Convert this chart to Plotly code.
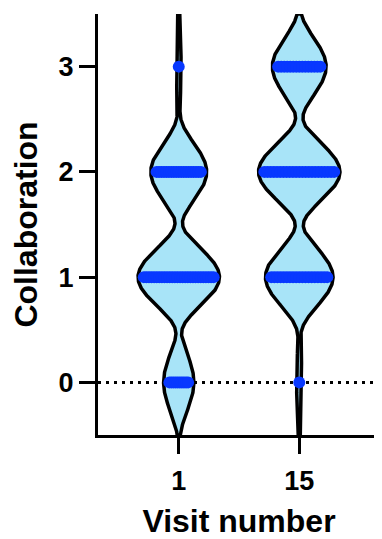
import numpy as np
import plotly.graph_objects as go

# ---- data ----
visits = ["1", "15"]
levels = [0, 1, 2, 3]
counts_visit1 = [10, 28, 19, 1]    # number of subjects at each collaboration score
counts_visit15 = [1, 19, 23, 15]
y_ticks = [0, 1, 2, 3]

FILL = "rgb(168,228,248)"
DOT = "rgb(8,56,255)"
FONT = "Arial, Liberation Sans, sans-serif"

VWIDTH = 0.66      # full violin width in x units
MARK_R = 0.04      # marker radius in x data units
SUPPORT = 0.62     # kernel half-support (triweight kernel)
FLOOR = 0.008      # minimal half-width so the thin parts stay visible
Y_SPAN = (-0.5, 3.5)


def kde(samples_levels, samples_counts, grid):
    dens = np.zeros_like(grid)
    for lv, n in zip(samples_levels, samples_counts):
        u = (grid - lv) / SUPPORT
        k = np.where(np.abs(u) < 1, (1 - u ** 2) ** 3, 0.0)
        dens += n * k
    return dens


fig = go.Figure()
groups = [counts_visit1, counts_visit15]
grid = np.linspace(Y_SPAN[0], Y_SPAN[1], 801)

# violin bodies (kernel density outline drawn on the data axes)
for gi, counts in enumerate(groups):
    d = kde(levels, counts, grid)
    half = d / d.max() * VWIDTH / 2 + FLOOR
    xs = np.concatenate([gi + half, (gi - half)[::-1], [gi + half[0]]])
    ys = np.concatenate([grid, grid[::-1], [grid[0]]])
    fig.add_trace(go.Scatter(
        x=xs, y=ys, mode="lines", fill="toself", fillcolor=FILL,
        line=dict(color="black", width=3.5), name="Visit " + visits[gi],
        hoverinfo="skip", showlegend=False,
    ))

# individual subjects, spread across the violin width at each score
for gi, counts in enumerate(groups):
    nmax = max(counts)
    xs, ys = [], []
    for lv, n in zip(levels, counts):
        s = max(0.0, n / nmax * VWIDTH / 2 - MARK_R)
        offs = np.linspace(-s, s, n) if n > 1 else np.array([0.0])
        xs.extend(gi + offs)
        ys.extend([lv] * n)
    fig.add_trace(go.Scatter(
        x=xs, y=ys, mode="markers",
        marker=dict(color=DOT, size=12, line=dict(width=0)),
        hoverinfo="skip", showlegend=False,
    ))

fig.add_shape(type="line", xref="paper", yref="y", x0=0, x1=1, y0=0, y1=0,
              line=dict(color="black", width=3, dash="3px,5px"), layer="below")

# the page body adds an 8px offset, so the figure is sized/margined to compensate
fig.update_layout(
    width=374, height=531,
    margin=dict(l=90, r=2, t=6, b=104),
    plot_bgcolor="white", paper_bgcolor="white",
    font=dict(family=FONT, color="black"),
)
fig.update_xaxes(
    range=[-0.67, 1.67], tickvals=[0, 1], ticktext=visits,
    showline=True, linecolor="black", linewidth=3,
    ticks="outside", ticklen=16, tickwidth=3, tickcolor="black",
    showgrid=False, zeroline=False, automargin=False, ticklabelstandoff=4,
    tickfont=dict(size=27, weight="bold", family=FONT),
    title=dict(text="Visit number", font=dict(size=32, weight="bold", family=FONT), standoff=18),
)
fig.update_yaxes(
    range=[Y_SPAN[0], Y_SPAN[1]], tickvals=y_ticks,
    showline=True, linecolor="black", linewidth=3,
    ticks="outside", ticklen=16, tickwidth=3, tickcolor="black",
    showgrid=False, zeroline=False, automargin=False,
    tickfont=dict(size=27, weight="bold", family=FONT),
    title=dict(text="Collaboration", font=dict(size=32, weight="bold", family=FONT), standoff=31),
)

fig.write_html("out.html")
